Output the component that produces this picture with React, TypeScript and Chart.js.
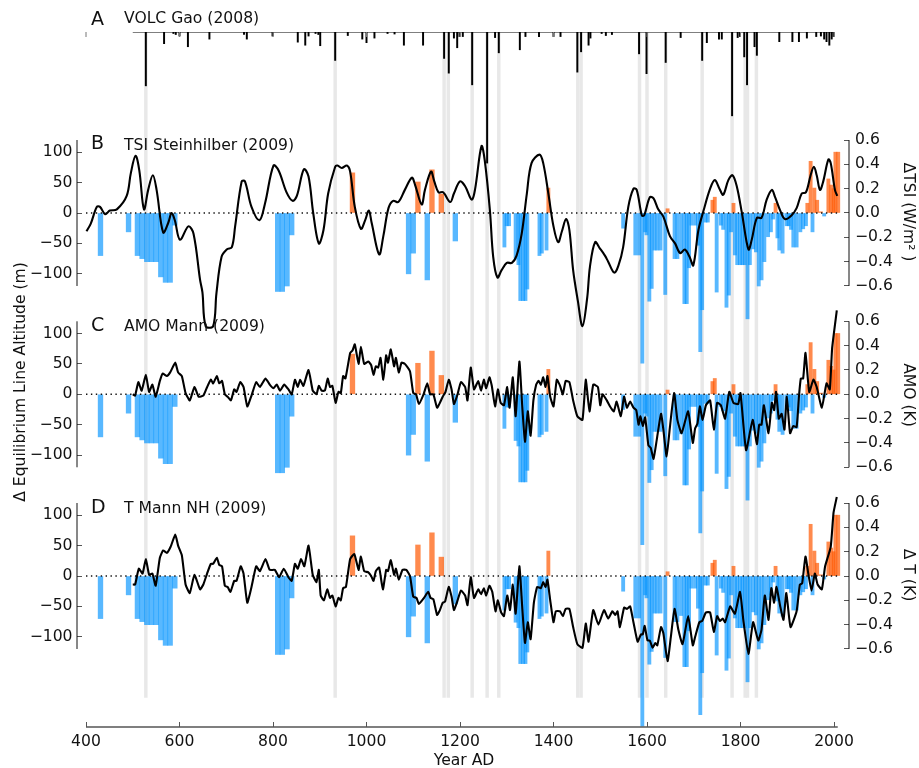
import React, { useEffect, useRef } from "react";
import { Chart, registerables } from "chart.js";

Chart.register(...registerables);

const FONT = '"DejaVu Sans"';
const xTicks = [400, 600, 800, 1000, 1200, 1400, 1600, 1800, 2000];
const leftTicks = [-100, -50, 0, 50, 100];
const rightTicks = [-0.6, -0.4, -0.2, 0, 0.2, 0.4, 0.6];

const bandYears = [528, 933, 1166, 1175, 1226, 1258, 1283, 1452, 1459, 1584, 1600, 1640, 1718, 1782, 1810, 1815, 1834];

const volc: [number, number][] = [
  [528, 106], [567, 23], [587, 3], [592, 5], [600, 8], [618, 29], [664, 14], [738, 5], [744, 14], [799, 8], [853, 20], [869, 26],
  [876, 8], [891, 3], [897, 5], [901, 27], [933, 56], [960, 7], [991, 14], [1000, 21], [1017, 12], [1045, 3], [1060, 4], [1080, 26],
  [1121, 26], [1166, 52], [1176, 81], [1187, 12], [1194, 31], [1199, 9], [1206, 9], [1226, 104], [1258, 258], [1275, 11], [1283, 41],
  [1328, 35], [1340, 9], [1369, 9], [1400, 9], [1415, 9], [1451, 79], [1459, 39], [1475, 26], [1479, 12], [1503, 3], [1512, 7],
  [1525, 5], [1583, 43], [1599, 82], [1640, 60], [1672, 11], [1718, 56], [1728, 21], [1754, 14], [1760, 14], [1782, 165], [1794, 11],
  [1799, 9], [1808, 49], [1814, 104], [1830, 29], [1835, 46], [1883, 19], [1911, 19], [1925, 19], [1942, 12], [1962, 9], [1972, 8],
  [1979, 14], [1984, 19], [1990, 26], [1995, 14], [1999, 9],
];

const elaCoarse: [number, number][] = [
  [431, -70], [491, -31], [510, -70], [520, -75], [530, -80], [540, -80], [550, -80], [560, -105], [570, -114], [580, -114], [590, -20],
  [810, -129], [820, -129], [830, -120], [840, -36], [970, 66], [1090, -100], [1100, -66], [1110, 51], [1130, -110], [1140, 71], [1160, 31], [1190, -46],
];

const elaFine: [number, number][] = [
  [1295, -56], [1300, -21], [1305, -21], [1319, -76], [1325, -85], [1329, -144], [1335, -144], [1340, -144], [1344, -125], [1370, -70], [1375, -66], [1385, -61], [1389, 41],
  [1549, -25], [1575, -69], [1583, -69], [1590, -247], [1596, -31], [1599, -36], [1605, -145], [1610, -124], [1616, -61], [1622, -61], [1629, -61], [1639, -134], [1644, 7],
  [1659, -75], [1665, -75], [1673, -65], [1680, -149], [1685, -149], [1690, -90], [1695, -20], [1703, -20], [1709, -53], [1714, -228], [1718, -159], [1725, -15], [1730, -15],
  [1740, 21], [1745, 26], [1749, -130], [1758, -20], [1763, -27], [1770, -155], [1775, -135], [1780, -31], [1785, 16], [1788, -69], [1793, -85], [1799, -85], [1804, -85], [1809, -85],
  [1815, -174], [1820, -85], [1827, -59], [1833, -64], [1839, -120], [1845, -110], [1851, -80], [1859, -39], [1865, -31], [1870, -10], [1875, 16], [1879, -41], [1883, -61], [1890, -66],
  [1899, -21], [1903, -21], [1908, -27], [1913, -56], [1920, -56], [1928, -31], [1934, -26], [1940, -21], [1943, 16], [1950, 85], [1954, -31], [1958, 41], [1964, 21], [1972, 2], [1979, -5],
  [1988, 56], [1994, 46], [1999, 40], [2003, 100], [2009, 100],
];

const tsi: [number, number][] = [
  [401, -0.15], [410, -0.09], [423, 0.05], [430, 0.05], [441, -0.01], [451, 0.02], [466, 0.03], [487, 0.14], [496, 0.33], [506, 0.47], [514, 0.35], [524, 0.03], [533, 0.19], [543, 0.31], [551, 0.19], [565, -0.16], [576, -0.08], [583, 0], [590, -0.06], [601, -0.22], [619, -0.11], [630, -0.17], [644, -0.55], [649, -0.65], [656, -0.93], [672, -0.93], [679, -0.66], [690, -0.36], [701, -0.3], [712, -0.28], [719, -0.11], [733, 0.26], [740, 0.26], [754, 0.05], [771, -0.06], [783, 0.08], [801, 0.39], [812, 0.35], [829, 0.17], [842, 0.1], [851, 0.14], [866, 0.36],
  [876, 0.3], [886, 0], [898, -0.25], [908, -0.14], [918, 0.16], [933, 0.38], [938, 0.39], [947, 0.37], [958, 0.39], [965, 0.34], [975, 0.05], [988, -0.13], [997, -0.06], [1005, 0.02], [1011, -0.08], [1027, -0.34], [1036, -0.19], [1047, 0.04], [1057, 0.1], [1068, 0.09], [1082, 0.19], [1097, 0.29], [1104, 0.23], [1118, 0.07], [1125, 0.19], [1138, 0.34], [1145, 0.26], [1154, 0.17], [1164, 0.17], [1179, 0.09], [1187, 0.16], [1200, 0.26], [1211, 0.22], [1225, 0.11], [1232, 0.19], [1246, 0.55], [1253, 0.43], [1264, 0.02], [1271, -0.36], [1280, -0.53], [1289, -0.47], [1300, -0.41], [1311, -0.41], [1321, -0.35], [1332, -0.17], [1343, 0.16], [1353, 0.41], [1370, 0.48], [1378, 0.41], [1389, 0.16], [1400, -0.11], [1410, -0.24], [1418, -0.15], [1427, -0.05], [1434, -0.14], [1442, -0.47], [1452, -0.72], [1462, -0.93], [1472, -0.7], [1478, -0.44], [1489, -0.24], [1499, -0.29],
  [1510, -0.35], [1517, -0.4], [1530, -0.49], [1539, -0.43], [1549, -0.28], [1560, 0.05], [1571, 0.2], [1578, 0.19], [1589, -0.02], [1594, -0.02], [1606, 0.13], [1614, 0.12], [1624, 0.03], [1635, -0.03], [1649, -0.19], [1660, -0.25], [1671, -0.33], [1681, -0.3], [1691, -0.36], [1699, -0.43], [1710, -0.14], [1721, 0.02], [1735, 0.2], [1745, 0.27], [1755, 0.2], [1763, 0.15], [1774, 0.27], [1783, 0.31], [1792, 0.22], [1803, 0], [1817, -0.3], [1824, -0.22], [1835, -0.04], [1845, -0.04], [1856, 0.11], [1867, 0.19], [1874, 0.13], [1885, 0.02], [1895, -0.05], [1909, -0.02], [1920, 0.04], [1931, 0.16], [1940, 0.17], [1950, 0.31], [1957, 0.38], [1963, 0.31], [1970, 0.19], [1977, 0.26], [1988, 0.44], [1993, 0.41], [2002, 0.19], [2007, 0.14],
];

const amo: [number, number][] = [
  [500, 0], [505, -0.01], [512, 0.1], [519, 0.03], [528, 0.16], [535, 0.02], [542, 0.08], [549, -0.02], [558, 0.11], [564, 0.17], [573, 0.15], [580, 0.18], [591, 0.26], [597, 0.18], [605, 0.15], [613, 0.01], [622, -0.05], [632, 0.06], [641, -0.02], [651, -0.01], [658, 0.05], [667, 0.12], [672, 0.09], [680, 0.15], [685, 0.09], [691, 0.11], [697, 0], [703, -0.02], [710, -0.05], [717, 0.04], [722, 0.02], [730, 0.1], [737, 0.06], [745, -0.1], [754, -0.01], [764, 0.1], [772, 0.06], [784, 0.13], [793, 0.08], [801, 0.05], [808, 0.08], [815, 0.03], [824, 0.08], [833, 0.04], [840, 0], [847, 0.12], [853, 0.06], [858, 0.12], [865, 0.07],
  [876, 0.2], [885, 0.03], [893, 0], [898, 0.07], [904, 0.03], [911, 0.03], [917, 0.13], [922, 0.06], [927, 0.07], [934, -0.07], [940, 0.02], [945, 0.01], [950, 0.15], [955, 0.13], [965, 0.34], [970, 0.36], [975, 0.41], [983, 0.25], [988, 0.39], [995, 0.25], [1004, 0.27], [1010, 0.24], [1015, 0.16], [1020, 0.23], [1025, 0.22], [1030, 0.3], [1036, 0.12], [1042, 0.32], [1046, 0.26], [1052, 0.37], [1059, 0.23], [1063, 0.3], [1069, 0.18], [1075, 0.26], [1082, 0.25], [1093, 0.19], [1100, 0.01], [1106, 0], [1112, -0.08], [1122, 0], [1130, 0.09], [1136, 0], [1143, 0], [1151, -0.11], [1157, -0.07], [1163, -0.02], [1169, 0.02], [1176, 0.12], [1182, 0.04], [1187, -0.08], [1194, -0.01], [1202, 0.1], [1211, 0.06], [1216, -0.05], [1223, 0.22], [1230, 0.04], [1239, 0.11], [1245, 0.03], [1251, 0.12], [1256, 0.05], [1263, 0.14], [1268, 0.07], [1275, -0.1], [1281, 0.04], [1287, -0.07], [1294, -0.09], [1301, 0.06], [1306, -0.11], [1313, 0.14], [1319, -0.18], [1327, 0.27], [1333, -0.09], [1339, -0.39], [1345, -0.14], [1351, -0.34], [1357, -0.05], [1363, 0.08], [1368, 0.11], [1373, 0.08], [1378, 0.14], [1383, 0.06], [1387, 0.15], [1393, -0.02], [1400, -0.1], [1407, 0.12], [1414, 0.07], [1420, 0], [1426, 0.11], [1434, 0.1], [1442, -0.05], [1451, -0.18], [1462, -0.21], [1469, 0.12], [1477, -0.14], [1485, 0.08], [1495, 0.06], [1500, -0.09], [1505, 0], [1514, -0.05],
  [1521, -0.1], [1529, -0.14], [1535, -0.06], [1544, -0.18], [1551, -0.02], [1557, -0.11], [1564, -0.06], [1571, -0.11], [1577, -0.13], [1582, -0.25], [1586, -0.18], [1591, -0.26], [1596, -0.19], [1603, -0.42], [1608, -0.44], [1614, -0.53], [1621, -0.37], [1630, -0.16], [1635, -0.29], [1642, -0.51], [1649, -0.27], [1658, 0.01], [1665, -0.21], [1674, -0.32], [1688, -0.14], [1698, -0.4], [1703, -0.28], [1708, -0.24], [1713, -0.1], [1719, -0.21], [1726, -0.09], [1735, -0.05], [1743, -0.29], [1750, -0.07], [1758, -0.09], [1767, -0.2], [1776, 0.02], [1785, -0.07], [1795, -0.08], [1800, 0.01], [1812, -0.46], [1826, -0.21], [1835, -0.41], [1840, -0.25], [1845, -0.25], [1850, -0.09], [1860, -0.32], [1867, -0.07], [1872, -0.13], [1876, 0.02], [1882, -0.2], [1888, -0.16], [1894, -0.29], [1899, -0.02], [1906, -0.32], [1913, -0.26], [1920, -0.27], [1925, -0.02], [1929, 0.13], [1934, 0.13], [1939, 0.34], [1947, 0.02], [1956, 0.12], [1963, 0.06], [1974, -0.11], [1984, 0.09], [1991, 0.04], [1996, 0.38], [2006, 0.69],
];

const nhT: [number, number][] = [
  [500, -0.07], [505, -0.07], [513, 0.06], [521, 0.02], [528, 0.14], [535, 0.01], [542, 0.02], [549, -0.08], [558, 0.15], [565, 0.21], [573, 0.19], [581, 0.24], [591, 0.34], [597, 0.25], [605, 0.17], [613, -0.07], [622, -0.14], [632, 0.01], [644, -0.11], [651, -0.07], [659, 0.02], [667, 0.1], [672, 0.1], [680, 0.15], [685, 0.09], [691, 0.08], [697, -0.08], [703, -0.09], [709, -0.13], [717, -0.04], [722, -0.04], [731, 0.08], [737, 0.02], [745, -0.22], [754, -0.09], [764, 0.08], [772, 0.04], [784, 0.14], [793, 0.05], [804, 0.05], [813, -0.01], [823, 0.06], [833, -0.01], [840, -0.04], [847, 0.1], [853, 0.06], [860, 0.14], [867, 0.08],
  [876, 0.25], [885, 0.01], [893, -0.05], [898, 0.05], [902, -0.16], [909, -0.2], [916, -0.11], [922, -0.18], [927, -0.16], [934, -0.25], [940, -0.18], [945, -0.2], [950, -0.1], [956, -0.09], [965, 0.14], [974, 0.18], [983, 0.05], [988, 0.16], [995, 0.04], [1004, 0.03], [1010, 0], [1015, -0.04], [1020, 0.04], [1027, 0.07], [1035, -0.11], [1042, 0.05], [1046, 0.04], [1052, 0.13], [1059, 0.01], [1063, 0.06], [1069, -0.03], [1077, 0.05], [1085, 0.05], [1093, 0], [1100, -0.17], [1107, -0.18], [1112, -0.23], [1123, -0.18], [1132, -0.13], [1137, -0.18], [1143, -0.19], [1151, -0.32], [1157, -0.28], [1163, -0.22], [1168, -0.21], [1176, -0.09], [1182, -0.17], [1187, -0.28], [1194, -0.21], [1202, -0.12], [1211, -0.16], [1216, -0.24], [1223, -0.01], [1230, -0.18], [1239, -0.11], [1245, -0.15], [1251, -0.1], [1256, -0.16], [1263, -0.08], [1269, -0.13], [1276, -0.29], [1281, -0.2], [1288, -0.3], [1294, -0.33], [1301, -0.16], [1307, -0.28], [1313, -0.07], [1319, -0.31], [1327, 0.08], [1333, -0.25], [1339, -0.55], [1345, -0.38], [1351, -0.52], [1358, -0.22], [1365, -0.09], [1373, -0.1], [1378, -0.05], [1383, -0.09], [1387, -0.03], [1393, -0.2], [1400, -0.38], [1405, -0.29], [1414, -0.29], [1420, -0.33], [1426, -0.27], [1434, -0.27], [1442, -0.42], [1451, -0.56], [1462, -0.59], [1469, -0.39], [1475, -0.54], [1485, -0.28], [1496, -0.4],
  [1508, -0.28], [1517, -0.35], [1526, -0.29], [1532, -0.32], [1537, -0.29], [1542, -0.42], [1551, -0.26], [1557, -0.27], [1564, -0.25], [1571, -0.38], [1580, -0.54], [1587, -0.48], [1591, -0.48], [1595, -0.41], [1601, -0.53], [1606, -0.53], [1612, -0.59], [1618, -0.55], [1622, -0.57], [1630, -0.42], [1635, -0.47], [1644, -0.7], [1651, -0.5], [1659, -0.27], [1667, -0.44], [1676, -0.56], [1688, -0.33], [1698, -0.57], [1703, -0.5], [1712, -0.38], [1718, -0.37], [1726, -0.3], [1735, -0.3], [1743, -0.46], [1750, -0.33], [1756, -0.37], [1762, -0.35], [1767, -0.38], [1778, -0.25], [1788, -0.31], [1799, -0.13], [1806, -0.36], [1817, -0.64], [1827, -0.38], [1838, -0.53], [1845, -0.44], [1852, -0.16], [1860, -0.36], [1866, -0.1], [1872, -0.22], [1877, -0.09], [1885, -0.25], [1892, -0.36], [1898, -0.14], [1907, -0.42], [1920, -0.29], [1927, -0.07], [1932, -0.06], [1939, 0.16], [1945, 0.02], [1952, -0.12], [1959, 0.02], [1965, -0.07], [1974, -0.11], [1981, 0.08], [1993, 0.24], [1999, 0.52], [2006, 0.65],
];

// layout constants (pixels), used only to configure the scales
const TOP = 32;
const BOTTOM = 727;
const LEFT = 77;
const RIGHT = 849;
const PX_PER_YEAR = 0.4675;
const PX_PER_M = 0.6083;
const PX_PER_UNIT = PX_PER_M * 200;
const PX_PER_TG = 0.508;
const X_MIN = 400 - (86 - LEFT) / PX_PER_YEAR;
const X_MAX = X_MIN + (RIGHT - LEFT) / PX_PER_YEAR;

const BLUE = "rgba(1,147,255,0.66)";
const ORANGE = "rgba(255,88,1,0.7)";
const TICK_SIZE = 15.6;

const pts = (a: [number, number][]) => a.map(([x, y]) => ({ x, y }));
const fmtRight = (v: number) => (v < 0 ? "\u2212" : "") + Math.abs(v).toFixed(1);
const fmtLeft = (v: number) => (v < 0 ? "\u2212" : "") + Math.abs(v).toString();

function yScale(zero: number, ppu: number, side: "left" | "right") {
  const isLeft = side === "left";
  const list = isLeft ? leftTicks : rightTicks;
  return {
    type: "linear",
    position: side,
    min: -(BOTTOM - zero) / ppu,
    max: (zero - TOP) / ppu,
    border: { display: false },
    grid: { drawOnChartArea: false, drawTicks: true, tickLength: -5, color: "#555", lineWidth: 1 },
    ticks: {
      autoSkip: false,
      padding: isLeft ? 9.5 : 11,
      color: "#111",
      font: { family: FONT, size: TICK_SIZE },
      callback: (v: number) => (isLeft ? fmtLeft(v) : fmtRight(v)),
    },
    afterBuildTicks: (s: any) => {
      s.ticks = list.map((value: number) => ({ value }));
    },
    afterFit: (s: any) => {
      s.width = 0;
    },
  };
}

const panels = [
  { id: "B", zero: 213, line: tsi, tension: 0.35 },
  { id: "C", zero: 394.3, line: amo, tension: 0.15 },
  { id: "D", zero: 576, line: nhT, tension: 0.15 },
];

const annotations = {
  id: "annotations",
  afterLayout(chart: any) {
    // the scales keep no room of their own, but their tick labels are clipped to their boxes
    for (const p of panels) {
      const l = chart.scales["y" + p.id];
      l.left = 0;
      const r = chart.scales["r" + p.id];
      r.right = 919;
    }
    chart.scales.x.bottom = 768;
  },
  afterDraw(chart: any) {
    const { ctx, scales } = chart;
    ctx.save();
    // spines
    ctx.strokeStyle = "#111";
    ctx.lineWidth = 1;
    for (const p of panels) {
      const l = scales["y" + p.id];
      const r = scales["r" + p.id];
      ctx.beginPath();
      ctx.moveTo(LEFT, l.getPixelForValue(120));
      ctx.lineTo(LEFT, l.getPixelForValue(-120));
      ctx.moveTo(RIGHT, r.getPixelForValue(0.6));
      ctx.lineTo(RIGHT, r.getPixelForValue(-0.6));
      ctx.stroke();
    }
    const x = scales.x;
    ctx.strokeStyle = "#555";
    ctx.lineWidth = 1.5;
    ctx.beginPath();
    ctx.moveTo(x.getPixelForValue(400), BOTTOM);
    ctx.lineTo(x.getPixelForValue(2008), BOTTOM);
    ctx.stroke();
    ctx.lineWidth = 1;
    ctx.strokeStyle = "#777";
    ctx.beginPath();
    for (const t of xTicks) {
      const px = x.getPixelForValue(t);
      ctx.moveTo(px, TOP);
      ctx.lineTo(px, TOP + 5);
    }
    ctx.stroke();

    // texts
    ctx.fillStyle = "#111";
    ctx.textBaseline = "alphabetic";
    ctx.textAlign = "left";
    const heads: [string, string, number, number][] = [
      ["A", "VOLC Gao (2008)", 25, 22.7],
      ["B", "TSI Steinhilber (2009)", 149, 149.5],
      ["C", "AMO Mann (2009)", 331, 331],
      ["D", "T Mann NH (2009)", 513, 512.7],
    ];
    for (const [letter, title, ly, ty] of heads) {
      ctx.font = `19px ${FONT}`;
      ctx.fillText(letter, 91, ly);
      ctx.font = `15.6px ${FONT}`;
      ctx.fillText(title, 124, ty);
    }
    ctx.textAlign = "center";
    ctx.font = `15.6px ${FONT}`;
    ctx.fillText("Year AD", 464, 765);
    const rotated = (text: string, px: number, py: number, angle: number) => {
      ctx.save();
      ctx.translate(px, py);
      ctx.rotate(angle);
      ctx.fillText(text, 0, 0);
      ctx.restore();
    };
    rotated("\u0394 Equilibrium Line Altitude (m)", 25, 382, -Math.PI / 2);
    rotated("\u0394TSI (W/m\u00B2 )", 904, 212, Math.PI / 2);
    rotated("AMO (K)", 904, 395, Math.PI / 2);
    rotated("\u0394 T (K)", 904, 575, Math.PI / 2);
    ctx.restore();
  },
};

export default function App() {
  const ref = useRef<HTMLCanvasElement | null>(null);
  useEffect(() => {
    const datasets: any[] = [
      {
        type: "bar",
        label: "Eruptions",
        yAxisID: "yV",
        data: bandYears.map((x) => ({ x, y: [0, (697.5 - TOP) / PX_PER_TG] })),
        backgroundColor: "#e8e8e8",
        barThickness: 2.8,
        grouped: false,
        order: 10,
      },
      {
        type: "bar",
        label: "VOLC",
        yAxisID: "yV",
        data: pts(volc),
        backgroundColor: "#000",
        barThickness: 1.3,
        grouped: false,
        order: 3,
      },
      {
        type: "line",
        label: "VOLC base",
        yAxisID: "yV",
        data: pts([[500, 0], [2000, 0]]),
        borderColor: "#000",
        borderWidth: 1.2,
        pointRadius: 0,
        order: 2,
      },
    ];
    for (const p of panels) {
      const yId = "y" + p.id;
      const rId = "r" + p.id;
      datasets.push(
        {
          type: "bar",
          label: "ELA coarse " + p.id,
          yAxisID: yId,
          data: pts(elaCoarse),
          backgroundColor: elaCoarse.map(([, v]) => (v < 0 ? BLUE : ORANGE)),
          barThickness: 4.7,
          grouped: false,
          order: 5,
        },
        {
          type: "bar",
          label: "ELA fine " + p.id,
          yAxisID: yId,
          data: pts(elaFine),
          backgroundColor: elaFine.map(([, v]) => (v < 0 ? BLUE : ORANGE)),
          barThickness: 3.2,
          grouped: false,
          order: 5,
        },
        {
          type: "line",
          label: "zero " + p.id,
          yAxisID: yId,
          data: pts([[400, 0], [2008, 0]]),
          borderColor: "#111",
          borderWidth: 1.4,
          borderDash: [1.4, 3.5],
          pointRadius: 0,
          order: 4,
        },
        {
          type: "line",
          label: "series " + p.id,
          yAxisID: rId,
          data: pts(p.line),
          borderColor: "#000",
          borderWidth: 2.1,
          pointRadius: 0,
          tension: p.tension,
          clip: false,
          order: 1,
        }
      );
    }
    const scales: any = {
      x: {
        type: "linear",
        offset: false,
        min: X_MIN,
        max: X_MAX,
        border: { display: false },
        grid: { offset: false, drawOnChartArea: false, drawTicks: true, tickLength: -5, color: "#555", lineWidth: 1 },
        ticks: {
          autoSkip: false,
          maxRotation: 0,
          padding: 11,
          color: "#111",
          font: { family: FONT, size: TICK_SIZE },
          callback: (v: number) => String(v),
        },
        afterBuildTicks: (s: any) => {
          s.ticks = xTicks.map((value) => ({ value }));
        },
        afterFit: (s: any) => {
          s.height = 0;
        },
      },
      yV: {
        type: "linear",
        display: false,
        reverse: true,
        min: 0,
        max: (BOTTOM - TOP) / PX_PER_TG,
      },
    };
    for (const p of panels) {
      scales["y" + p.id] = yScale(p.zero, PX_PER_M, "left");
      scales["r" + p.id] = yScale(p.zero, PX_PER_UNIT, "right");
    }
    const chart = new Chart(ref.current as HTMLCanvasElement, {
      type: "bar",
      data: { datasets },
      options: {
        responsive: false,
        animation: false,
        devicePixelRatio: 1,
        layout: { padding: { left: LEFT, right: 919 - RIGHT, top: TOP, bottom: 768 - BOTTOM } },
        plugins: { legend: { display: false }, tooltip: { enabled: false } },
        scales,
      },
      plugins: [annotations],
    } as any);
    return () => chart.destroy();
  }, []);
  return (
    <canvas
      ref={ref}
      width={919}
      height={768}
      style={{ position: "fixed", left: 0, top: 0, width: 919, height: 768, display: "block", background: "#fff" }}
    />
  );
}
